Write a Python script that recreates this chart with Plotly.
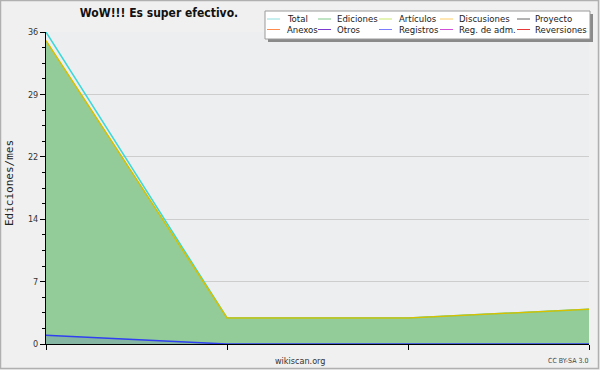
import plotly.graph_objects as go

# ---- data ----
months = [0, 1, 2, 3]
total = [36, 3, 3, 4]
ediciones = [35, 3, 3, 4]
articulos = [35, 3, 3, 4]
registros = [1, 0, 0, 0]

y_tickvals = [0, 7.2, 14.4, 21.6, 28.8, 36]
y_ticktext = ["0", "7", "14", "22", "29", "36"]

legend_names = ["Total", "Ediciones", "Artículos", "Discusiones", "Proyecto",
                "Anexos", "Otros", "Registros", "Reg. de adm.", "Reversiones"]
legend_colors = ["#8fdede", "#7fc98a", "#c9e96a", "#ffcc66", "#666666",
                 "#ff8c4c", "#7d3ad0", "#7c7cff", "#d04ed8", "#e83838"]

title_text = "WoW!!! Es super efectivo."
ytitle = "Ediciones/mes"
source_text = "wikiscan.org"
license_text = "CC BY-SA 3.0"

# ---- geometry helpers (pixel -> paper) ----
W, H = 600, 370
L, R, T, B = 46, 589, 32, 344
PW, PH = R - L, B - T

def px(x):
    return (x - L) / PW

def py(y):
    return (B - y) / PH

COND = "DejaVu Sans Condensed, DejaVu Sans, sans-serif"

fig = go.Figure()
fig.add_trace(go.Scatter(x=months, y=ediciones, mode="lines", fill="tozeroy",
                         fillcolor="#94cc99", line=dict(color="#86c48f", width=1),
                         name="Ediciones", showlegend=False, hoverinfo="skip"))
fig.add_trace(go.Scatter(x=months, y=registros, mode="lines", fill="tozeroy",
                         fillcolor="rgba(80,100,200,0.22)", line=dict(color="#3040f0", width=1.5),
                         name="Registros", showlegend=False, hoverinfo="skip"))
fig.add_trace(go.Scatter(x=months, y=total, mode="lines",
                         line=dict(color="#3cd8d8", width=1.5),
                         name="Total", showlegend=False, hoverinfo="skip"))
fig.add_trace(go.Scatter(x=months, y=articulos, mode="lines",
                         line=dict(color="#d8c000", width=1.5),
                         name="Artículos", showlegend=False, hoverinfo="skip"))

shapes = []
annotations = []

# outer border
shapes.append(dict(type="rect", xref="paper", yref="paper",
                   x0=px(0.5), x1=px(598.5), y0=py(0.5), y1=py(368.5),
                   line=dict(color="#b0b0b0", width=1.5), layer="below"))

# legend box with shadow
lx0, lx1, ly0, ly1 = 265, 590, 11, 39
shapes.append(dict(type="rect", xref="paper", yref="paper",
                   x0=px(lx0 + 3), x1=px(lx1 + 3), y0=py(ly0 + 3), y1=py(ly1 + 3),
                   line=dict(width=0), fillcolor="#8a8a8a", layer="above"))
shapes.append(dict(type="rect", xref="paper", yref="paper",
                   x0=px(lx0), x1=px(lx1), y0=py(ly0), y1=py(ly1),
                   line=dict(color="#9a9a9a", width=1), fillcolor="#ffffff", layer="above"))

col_sym = [267, 318, 379, 440, 517]
col_txt = [285, 335, 397, 457, 533]
row_y = [19, 29.5]
for i, (name, color) in enumerate(zip(legend_names, legend_colors)):
    r, c = divmod(i, 5)
    yy = row_y[r]
    shapes.append(dict(type="line", xref="paper", yref="paper",
                       x0=px(col_sym[c]), x1=px(col_sym[c] + 13), y0=py(yy), y1=py(yy),
                       line=dict(color=color, width=1), layer="above"))
    annotations.append(dict(text=name, xref="paper", yref="paper",
                            x=px(col_txt[c]), y=py(yy), xanchor="left", yanchor="middle",
                            showarrow=False, font=dict(family=COND, size=9.5, color="#222222")))

# y-axis title
annotations.append(dict(text=ytitle, xref="paper", yref="paper", x=px(10), y=py(183),
                        xanchor="center", yanchor="middle", textangle=-90, showarrow=False,
                        font=dict(family="DejaVu Sans Mono, monospace", size=11, color="#222222")))
# source + license
annotations.append(dict(text=source_text, xref="paper", yref="paper", x=px(300), y=py(361),
                        xanchor="center", yanchor="middle", showarrow=False,
                        font=dict(family=COND, size=9, color="#333333")))
annotations.append(dict(text=license_text, xref="paper", yref="paper", x=px(590), y=py(361),
                        xanchor="right", yanchor="middle", showarrow=False,
                        font=dict(family=COND, size=7, color="#444444")))

fig.update_layout(
    width=W, height=H,
    margin=dict(l=L, r=W - R, t=T, b=H - B, pad=0),
    paper_bgcolor="#f0f0f0",
    plot_bgcolor="#edeef0",
    showlegend=False,
    title=dict(text=title_text, xref="paper", x=px(159), xanchor="center",
               yref="container", y=1 - 13 / H, yanchor="middle",
               font=dict(family=COND, size=12, color="#111111", weight="bold")),
    shapes=shapes,
    annotations=annotations,
    xaxis=dict(range=[0, 3], tickvals=months, ticktext=["", "", "", ""],
               ticks="outside", ticklen=5, tickcolor="#000000", tickwidth=1,
               showline=True, linecolor="#000000", linewidth=1,
               showgrid=False, zeroline=False, fixedrange=True),
    yaxis=dict(range=[0, 36], tickvals=y_tickvals, ticktext=y_ticktext,
               ticks="outside", ticklen=5, tickcolor="#000000", tickwidth=1,
               tickfont=dict(family=COND, size=9, color="#333333"),
               showline=True, linecolor="#000000", linewidth=1,
               showgrid=True, gridcolor="#cdcdcd", gridwidth=1,
               zeroline=False, fixedrange=True,
               minor=dict(tick0=0, dtick=1.8, ticks="outside", ticklen=3,
                          tickcolor="#000000", showgrid=False)),
)

fig.write_html("out.html")
